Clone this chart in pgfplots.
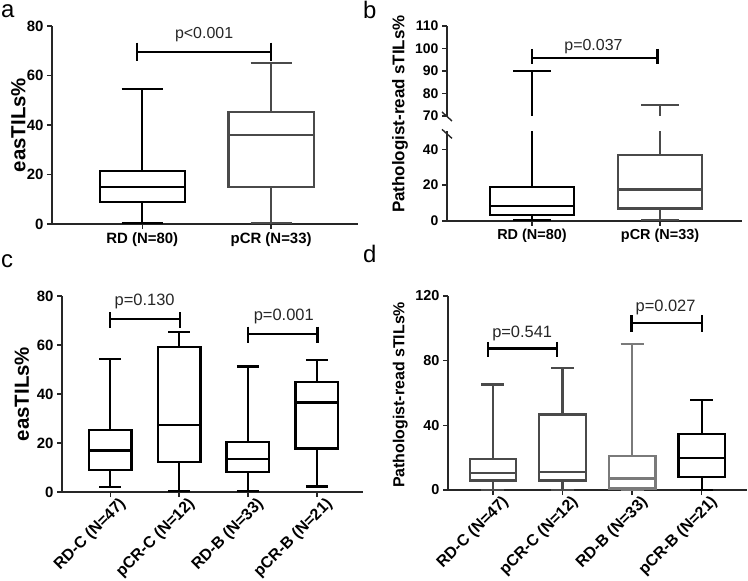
\documentclass[border=0pt]{standalone}
\usepackage{fontspec}
\setmainfont{Liberation Sans}
\usepackage{pgfplots}
\pgfplotsset{compat=1.18}
\usepgfplotslibrary{statistics}
\definecolor{axc}{HTML}{262626}
\definecolor{g1}{HTML}{4A4A4A}
\definecolor{g2}{HTML}{7A7A7A}
\pgfplotsset{
  panel/.style={
    scale only axis, anchor=south west,
    axis x line*=bottom, axis y line*=left,
    axis line style={line width=1.4bp, axc},
    tick style={line width=1.4bp, axc},
    tick align=outside, major tick length=5bp,
    /pgf/number format/assume math mode=true,
    clip=false,
    boxplot/draw direction=y,
  },
  bx/.style={line width=2.3bp, solid, mark=none, line join=miter},
  br/.style={line width=2.3bp, black, mark=none},
}
\newcommand{\fs}[1]{\fontsize{#1}{#1}\selectfont}
\begin{document}
\begin{tikzpicture}
\useasboundingbox (0bp,0bp) rectangle (748bp,581bp);
% panel letters
\node[anchor=base west, inner sep=0] at (1bp,563bp) {\fs{24}a};
\node[anchor=base west, inner sep=0] at (363bp,562bp) {\fs{24}b};
\node[anchor=base west, inner sep=0] at (1bp,313bp) {\fs{24}c};
\node[anchor=base west, inner sep=0] at (363bp,318bp) {\fs{24}d};

% ---------------- panel a
\begin{axis}[panel, at={(52bp,357bp)}, width=306bp, height=198bp,
  xmin=0.30, xmax=2.674, ymin=0, ymax=80,
  ytick={0,20,40,60,80},
  xtick={1,2}, xticklabels={{RD (N=80)},{pCR (N=33)}},
  xticklabel style={font=\bfseries\fs{15}},
  yticklabel style={font=\bfseries\fs{15}},
  ylabel={\bfseries\fs{20.5}easTILs\%},
  ylabel style={at={(axis description cs:-0.11,0.5)}, anchor=center},
]
\addplot[bx, black, boxplot prepared={draw position=1, lower whisker=0.5, lower quartile=8.9, median=15, upper quartile=21.5, upper whisker=54.5, box extend=0.66, whisker extend=0.32}] coordinates {};
\addplot[bx, g1, boxplot prepared={draw position=2, lower whisker=0.5, lower quartile=15, median=36, upper quartile=45.3, upper whisker=65, box extend=0.66, whisker extend=0.32}] coordinates {};
\addplot[br] coordinates {(0.96,73.3) (0.96,66)};
\addplot[br] coordinates {(0.96,69.6) (2.0,69.6)};
\addplot[br] coordinates {(2.0,73.3) (2.0,66)};
\node[font=\fs{16}, text=axc] at (axis cs:1.48,76.4) {p<0.001};
\end{axis}

% ---------------- panel b (broken axis)
\node[rotate=90, font=\bfseries\fs{17}] at (400bp,467bp) {Pathologist-read sTILs\%};
\begin{axis}[panel, clip=true, clip mode=individual, at={(447bp,360bp)}, width=295bp, height=89.6bp,
  xmin=0.336, xmax=2.64, ymin=0, ymax=50,
  ytick={0,20,40},
  xtick={1,2}, xticklabels={{RD (N=80)},{pCR (N=33)}},
  xticklabel style={font=\bfseries\fs{14.5}},
  yticklabel style={font=\bfseries\fs{14}},
]
\addplot[bx, black, boxplot prepared={draw position=1, lower whisker=0.5, lower quartile=3.3, median=8.5, upper quartile=19, upper whisker=90, box extend=0.66, whisker extend=0.29}] coordinates {};
\addplot[bx, g1, boxplot prepared={draw position=2, lower whisker=0.5, lower quartile=7, median=17.5, upper quartile=37, upper whisker=75, box extend=0.66, whisker extend=0.29}] coordinates {};
\draw[line width=1.4bp, axc] (axis description cs:0,1) ++(-5bp,2bp) -- ++(10bp,-9bp);
\end{axis}
\begin{axis}[panel, clip=true, clip mode=individual, at={(447bp,465bp)}, width=295bp, height=90bp,
  xmin=0.336, xmax=2.64, ymin=70, ymax=110,
  axis x line=none,
  ytick={70,80,90,100,110},
  yticklabel style={font=\bfseries\fs{14}},
]
\addplot[bx, black, boxplot prepared={draw position=1, lower whisker=0.5, lower quartile=3.3, median=8.5, upper quartile=19, upper whisker=90, box extend=0.66, whisker extend=0.29}] coordinates {};
\addplot[bx, g1, boxplot prepared={draw position=2, lower whisker=0.5, lower quartile=7, median=17.5, upper quartile=37, upper whisker=75, box extend=0.66, whisker extend=0.29}] coordinates {};
\draw[line width=1.4bp, axc] (axis description cs:0,0) ++(-5bp,4bp) -- ++(10bp,-9bp);
\addplot[br] coordinates {(1,99.8) (1,93.1)};
\addplot[br] coordinates {(1,95.8) (1.98,95.8)};
\addplot[br] coordinates {(1.98,99.8) (1.98,93.1)};
\node[font=\fs{16}, text=axc] at (axis cs:1.48,100.9) {p=0.037};
\end{axis}

% ---------------- panel c
\begin{axis}[panel, at={(62bp,89bp)}, width=301bp, height=196bp,
  xmin=0.30, xmax=4.67, ymin=0, ymax=80,
  ytick={0,20,40,60,80},
  xtick={1,2,3,4}, xticklabels={{RD-C (N=47)},{pCR-C (N=12)},{RD-B (N=33)},{pCR-B (N=21)}},
  xticklabel style={font=\bfseries\fs{16}, rotate=45, anchor=north east, inner sep=1bp, xshift=7bp, yshift=-4bp},
  yticklabel style={font=\bfseries\fs{15}},
  ylabel={\bfseries\fs{20.5}easTILs\%},
  ylabel style={at={(axis description cs:-0.133,0.5)}, anchor=center},
]
\addplot[bx, black, boxplot prepared={draw position=1, lower whisker=1.9, lower quartile=9, median=16.9, upper quartile=25.3, upper whisker=54.3, box extend=0.62, whisker extend=0.32}] coordinates {};
\addplot[bx, black, boxplot prepared={draw position=2, lower whisker=0.5, lower quartile=12.2, median=27.3, upper quartile=59.3, upper whisker=65.2, box extend=0.62, whisker extend=0.32}] coordinates {};
\addplot[bx, black, boxplot prepared={draw position=3, lower whisker=0.5, lower quartile=8.3, median=13.5, upper quartile=20.3, upper whisker=51.2, box extend=0.62, whisker extend=0.32}] coordinates {};
\addplot[bx, black, boxplot prepared={draw position=4, lower whisker=2.2, lower quartile=17.8, median=36.5, upper quartile=44.9, upper whisker=53.9, box extend=0.62, whisker extend=0.32}] coordinates {};
\addplot[br] coordinates {(1,73.3) (1,67)};
\addplot[br] coordinates {(1,70.5) (2.01,70.5)};
\addplot[br] coordinates {(2.01,73.3) (2.01,67)};
\addplot[br] coordinates {(3,67.5) (3,60.7)};
\addplot[br] coordinates {(3,64.5) (4.01,64.5)};
\addplot[br] coordinates {(4.01,67.5) (4.01,60.7)};
\node[font=\fs{16.5}, text=axc] at (axis cs:1.5,77.7) {p=0.130};
\node[font=\fs{16.5}, text=axc] at (axis cs:3.52,71.8) {p=0.001};
\end{axis}

% ---------------- panel d
\begin{axis}[panel, at={(448bp,91bp)}, width=299bp, height=194bp,
  xmin=0.354, xmax=4.65, ymin=0, ymax=120,
  ytick={0,40,80,120},
  xtick={1,2,3,4}, xticklabels={{RD-C (N=47)},{pCR-C (N=12)},{RD-B (N=33)},{pCR-B (N=21)}},
  xticklabel style={font=\bfseries\fs{16}, rotate=45, anchor=north east, inner sep=1bp, xshift=7bp, yshift=-4bp},
  yticklabel style={font=\bfseries\fs{14.5}},
  ylabel={\bfseries\fs{16}Pathologist-read sTILs\%},
  ylabel style={at={(axis description cs:-0.16,0.49)}, anchor=center},
]
\addplot[bx, g1, boxplot prepared={draw position=1, lower whisker=0, lower quartile=5.8, median=10.3, upper quartile=19.1, upper whisker=65.3, box extend=0.67, whisker extend=0.33}] coordinates {};
\addplot[bx, g1, boxplot prepared={draw position=2, lower whisker=0, lower quartile=5.8, median=11.3, upper quartile=46.7, upper whisker=75.3, box extend=0.67, whisker extend=0.33}] coordinates {};
\addplot[bx, g2, boxplot prepared={draw position=3, lower whisker=0, lower quartile=1, median=7.2, upper quartile=21, upper whisker=90.5, box extend=0.67, whisker extend=0.33}] coordinates {};
\addplot[bx, black, boxplot prepared={draw position=4, lower whisker=0, lower quartile=8.2, median=20, upper quartile=34.6, upper whisker=55.6, box extend=0.67, whisker extend=0.33}] coordinates {};
\addplot[br] coordinates {(0.93,91.6) (0.93,82.3)};
\addplot[br] coordinates {(0.93,87.5) (1.92,87.5)};
\addplot[br] coordinates {(1.92,91.6) (1.92,82.3)};
\addplot[br] coordinates {(2.99,108) (2.99,97.8)};
\addplot[br] coordinates {(2.99,103.3) (4.0,103.3)};
\addplot[br] coordinates {(4.0,108) (4.0,97.8)};
\node[font=\fs{16.5}, text=axc] at (axis cs:1.42,96.7) {p=0.541};
\node[font=\fs{16.5}, text=axc] at (axis cs:3.48,112.8) {p=0.027};
\end{axis}
\end{tikzpicture}
\end{document}
